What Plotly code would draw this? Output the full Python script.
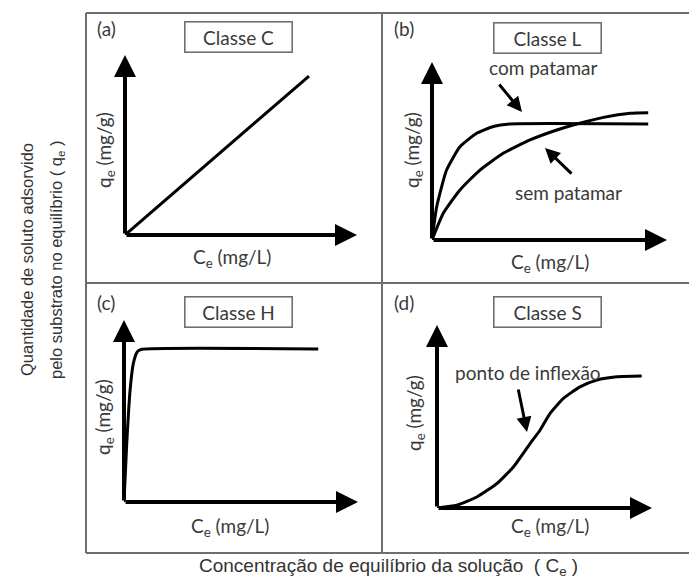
import plotly.graph_objects as go

W, H = 689, 586

# ---------------- data (panel units: 0..10 along each drawn axis) ----------------
panel_a_x = [0, 7.93]
panel_a_y = [0, 8.83]

panel_b_com_x = [0, 0.2, 0.62, 1.19, 1.9, 2.61, 3.32, 9.2]
panel_b_com_y = [0, 1.87, 3.93, 5.24, 6.0, 6.38, 6.52, 6.52]
panel_b_sem_x = [0, 0.48, 1.19, 2.04, 3.03, 4.17, 5.31, 6.16, 7.3, 8.43, 9.2]
panel_b_sem_y = [0, 1.5, 2.81, 3.93, 4.87, 5.62, 6.18, 6.52, 6.89, 7.12, 7.15]

panel_c_x = [0, 0.11, 0.26, 0.4, 0.57, 0.76, 8.3]
panel_c_y = [0, 3.04, 6.15, 7.62, 8.26, 8.39, 8.41]

panel_d_x = [0, 0.92, 1.85, 2.78, 3.55, 4.33, 4.79, 5.26, 5.88, 6.65, 7.43, 8.36, 9.52]
panel_d_y = [0, 0.15, 0.6, 1.33, 2.24, 3.52, 4.25, 5.17, 5.99, 6.62, 6.99, 7.17, 7.21]

panel_tags = ["(a)", "(b)", "(c)", "(d)"]
panel_titles = ["Classe C", "Classe L", "Classe H", "Classe S"]
x_label = "C<sub>e</sub> (mg/L)"
y_label = "q<sub>e</sub> (mg/g)"
outer_y_label_1 = "Quantidade de soluto adsorvido"
outer_y_label_2 = "pelo substrato no equilíbrio ( q<sub>e</sub> )"
outer_x_label = "Concentração de equilíbrio da solução  ( C<sub>e</sub> )"

# ---------------- layout helpers ----------------
def fx(x):
    return x / W

def fy(y):
    return 1 - y / H

# origin px, x-tip px, y-top px
panels = [
    dict(ox=125, oy=235, xt=357, yt=55),
    dict(ox=432, oy=240, xt=667, yt=62),
    dict(ox=124, oy=502, xt=358, yt=320),
    dict(ox=437, oy=508, xt=652, yt=325),
]

fig = go.Figure()
layout = dict(
    width=W, height=H, margin=dict(l=0, r=0, t=0, b=0),
    paper_bgcolor="white", plot_bgcolor="rgba(0,0,0,0)", showlegend=False,
)
for i, p in enumerate(panels, start=1):
    sx = "" if i == 1 else str(i)
    layout["xaxis" + sx] = dict(domain=[fx(p["ox"]), fx(p["xt"])], range=[0, 10], visible=False,
                                anchor="y" + sx, fixedrange=True)
    layout["yaxis" + sx] = dict(domain=[fy(p["oy"]), fy(p["yt"])], range=[0, 10], visible=False,
                                anchor="x" + sx, fixedrange=True)
fig.update_layout(**layout)

line_style = dict(color="black", width=3, shape="spline", smoothing=0.5)
fig.add_trace(go.Scatter(x=panel_a_x, y=panel_a_y, mode="lines", line=dict(color="black", width=3),
                         xaxis="x", yaxis="y"))
fig.add_trace(go.Scatter(x=panel_b_com_x, y=panel_b_com_y, mode="lines", line=line_style, xaxis="x2", yaxis="y2"))
fig.add_trace(go.Scatter(x=panel_b_sem_x, y=panel_b_sem_y, mode="lines", line=line_style, xaxis="x2", yaxis="y2"))
fig.add_trace(go.Scatter(x=panel_c_x, y=panel_c_y, mode="lines", line=line_style, xaxis="x3", yaxis="y3"))
fig.add_trace(go.Scatter(x=panel_d_x, y=panel_d_y, mode="lines", line=line_style, xaxis="x4", yaxis="y4"))

ann = []
# axis arrows
for i in range(1, 5):
    sx = "" if i == 1 else str(i)
    for (hx, hy) in [(10, 0), (0, 10)]:
        ann.append(dict(x=hx, y=hy, ax=0, ay=0, xref="x" + sx, yref="y" + sx,
                        axref="x" + sx, ayref="y" + sx, showarrow=True, arrowhead=2,
                        arrowsize=1.1, arrowwidth=4, arrowcolor="black", text=""))

txt_font = dict(family="Lato, Carlito, Noto Sans", size=19, color="#3a3a3a")


def label(xp, yp, text, font, **kw):
    d = dict(x=fx(xp), y=fy(yp), xref="paper", yref="paper", xanchor="center", yanchor="middle",
             showarrow=False, text=text, font=font)
    d.update(kw)
    return d


tag_pos = [(95, 28), (392, 28), (95, 302), (392, 302)]
box_pos = [(238, 37), (547, 38), (238, 312), (547, 312)]
xl_pos = [(232, 258), (550, 263), (230, 527), (550, 527)]
yl_pos = [(105, 150), (413, 150), (104, 417), (415, 413)]
for k in range(4):
    ann.append(label(tag_pos[k][0], tag_pos[k][1], panel_tags[k], txt_font, xanchor="left"))
    ann.append(label(box_pos[k][0], box_pos[k][1], panel_titles[k], txt_font,
                     width=104, height=27, bordercolor="#707070", borderwidth=1.6,
                     borderpad=1, bgcolor="white"))
    ann.append(label(xl_pos[k][0], xl_pos[k][1], x_label, txt_font))
    ann.append(label(yl_pos[k][0], yl_pos[k][1], y_label, txt_font, textangle=-90))

# callouts
ann.append(label(543, 68, "com patamar", txt_font))
ann.append(dict(x=fx(522), y=fy(112), xref="paper", yref="paper", ax=-24, ay=-29, showarrow=True,
                arrowhead=2, arrowsize=1, arrowwidth=3, arrowcolor="black", text=""))
ann.append(label(568, 192, "sem patamar", txt_font))
ann.append(dict(x=fx(545), y=fy(148), xref="paper", yref="paper", ax=28, ay=27, showarrow=True,
                arrowhead=2, arrowsize=1, arrowwidth=3, arrowcolor="black", text=""))
ann.append(label(528, 372, "ponto de inflexão", txt_font))
ann.append(dict(x=fx(527), y=fy(432), xref="paper", yref="paper", ax=-9, ay=-44, showarrow=True,
                arrowhead=2, arrowsize=1, arrowwidth=3, arrowcolor="black", text=""))

left_font = dict(family="Liberation Sans, Arial", size=16.5, color="#333333")
bottom_font = dict(family="Liberation Sans, Arial", size=19, color="#333333")
ann.append(label(27, 260, outer_y_label_1, left_font, textangle=-90))
ann.append(label(57, 260, outer_y_label_2, left_font, textangle=-90))
ann.append(label(388, 567, outer_x_label, bottom_font))
fig.update_layout(annotations=ann)

# frame
frame = dict(color="#6e6e6e", width=2)
shapes = [
    dict(type="line", xref="paper", yref="paper", x0=fx(86), x1=1.01, y0=fy(13), y1=fy(13), line=frame),
    dict(type="line", xref="paper", yref="paper", x0=fx(86), x1=1.01, y0=fy(283), y1=fy(283), line=frame),
    dict(type="line", xref="paper", yref="paper", x0=fx(86), x1=1.01, y0=fy(553), y1=fy(553), line=frame),
    dict(type="line", xref="paper", yref="paper", x0=fx(86), x1=fx(86), y0=fy(13), y1=fy(553), line=frame),
    dict(type="line", xref="paper", yref="paper", x0=fx(382), x1=fx(382), y0=fy(13), y1=fy(553), line=frame),
]
fig.update_layout(shapes=shapes)

fig.write_html("out.html", config={"displayModeBar": False},
               post_script="document.body.style.margin='0';document.body.style.overflow='hidden';")
